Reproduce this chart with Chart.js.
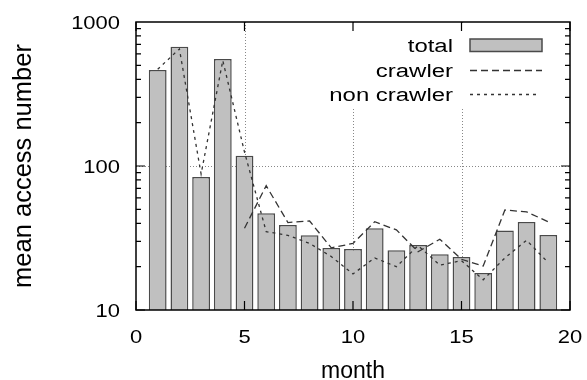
<!DOCTYPE html>
<html lang="en">
<head>
    <meta charset="UTF-8">
    <title>mean access number</title>
    <script src="https://cdn.jsdelivr.net/npm/chart.js"></script>
    <style>
        body { margin: 0; background: #fff; }
        #chart { display: block; }
    </style>
</head>
<body>
    <canvas id="chart" width="587" height="380"></canvas>
    <script>
        // data
        const months = [1, 2, 3, 4, 5, 6, 7, 8, 9, 10, 11, 12, 13, 14, 15, 16, 17, 18, 19];
        const total = [464, 674, 84, 553, 118, 47, 39, 33, 27, 26.5, 37, 26, 28.3, 24.4, 23.3, 18.1, 35.7, 40.8, 33.2];
        const crawlerMonths = [5, 6, 7, 8, 9, 10, 11, 12, 13, 14, 15, 16, 17, 18, 19];
        const crawler = [37, 73, 40.5, 41.5, 27, 29, 41, 36, 25.4, 31, 22.5, 20.2, 49.5, 48, 41];
        const nonCrawler = [470, 650, 88, 540, 125, 35, 33, 29, 23.5, 17.8, 23, 20, 28, 20.5, 22, 16.2, 23, 30.5, 21.3];
        const xTicks = [0, 5, 10, 15, 20];
        const yTicks = [10, 100, 1000];

        const FONT = '"Liberation Sans", Arial, sans-serif';
        const LINE = '#333';

        function stretchText(ctx, s, x, y, size, sx, align) {
            ctx.save();
            ctx.translate(x, y);
            ctx.scale(sx, 1);
            ctx.font = size + 'px ' + FONT;
            ctx.textAlign = align;
            ctx.textBaseline = 'alphabetic';
            ctx.fillStyle = '#000';
            ctx.fillText(s, 0, 0);
            ctx.restore();
        }

        const gnuplotLook = {
            id: 'gnuplotLook',
            beforeDatasetsDraw(chart) {
                const ctx = chart.ctx;
                const a = chart.chartArea;
                const xs = chart.scales.x, ys = chart.scales.y;
                ctx.save();
                ctx.strokeStyle = '#888';
                ctx.lineWidth = 1;
                ctx.setLineDash([1, 2]);
                ctx.beginPath();
                xTicks.slice(1, -1).forEach(v => {
                    const px = Math.round(xs.getPixelForValue(v)) + 0.5;
                    ctx.moveTo(px, a.top);
                    ctx.lineTo(px, a.bottom);
                });
                yTicks.slice(1, -1).forEach(v => {
                    const py = Math.round(ys.getPixelForValue(v)) + 0.5;
                    ctx.moveTo(a.left, py);
                    ctx.lineTo(a.right, py);
                });
                ctx.stroke();
                // legend box hides the grid behind it
                ctx.fillStyle = '#fff';
                ctx.fillRect(322, a.top + 1, a.right - 323, 86);
                ctx.restore();
            },
            afterDatasetsDraw(chart) {
                const ctx = chart.ctx;
                const a = chart.chartArea;
                const xs = chart.scales.x, ys = chart.scales.y;
                ctx.save();
                ctx.strokeStyle = '#000';
                ctx.lineWidth = 1.5;
                ctx.setLineDash([]);
                ctx.strokeRect(a.left, a.top, a.right - a.left, a.bottom - a.top);

                // log ticks, left and right, inward
                ctx.beginPath();
                for (let d = 10; d < 1000; d *= 10) {
                    for (let k = 1; k <= 9; k++) {
                        const v = d * k;
                        const py = ys.getPixelForValue(v);
                        const len = k === 1 ? 9 : 5;
                        ctx.moveTo(a.left, py); ctx.lineTo(a.left + len, py);
                        ctx.moveTo(a.right, py); ctx.lineTo(a.right - len, py);
                    }
                }
                xTicks.forEach(v => {
                    const px = xs.getPixelForValue(v);
                    ctx.moveTo(px, a.bottom); ctx.lineTo(px, a.bottom - 9);
                    ctx.moveTo(px, a.top); ctx.lineTo(px, a.top + 9);
                });
                ctx.lineWidth = 1.2;
                ctx.stroke();

                // tick labels
                yTicks.forEach(v => {
                    stretchText(ctx, String(v), a.left - 16, ys.getPixelForValue(v) + 6.5, 18, 1.22, 'right');
                });
                xTicks.forEach(v => {
                    stretchText(ctx, String(v), xs.getPixelForValue(v), a.bottom + 33, 18, 1.22, 'center');
                });

                // axis titles
                ctx.fillStyle = '#000';
                ctx.font = '23px ' + FONT;
                ctx.textAlign = 'center';
                ctx.textBaseline = 'alphabetic';
                ctx.fillText('month', (a.left + a.right) / 2, 378);
                ctx.save();
                ctx.translate(31, (a.top + a.bottom) / 2);
                ctx.rotate(-Math.PI / 2);
                ctx.font = '25.5px ' + FONT;
                ctx.fillText('mean access number', 0, 0);
                ctx.restore();

                // legend, gnuplot style: text right, sample to the right of it
                const ds = chart.data.datasets;
                const rows = [45, 70.5, 94.5];
                ds.forEach((d, i) => {
                    stretchText(ctx, d.label, 453, rows[i] + 6.5, 18, 1.33, 'right');
                    ctx.save();
                    if (d.type === 'line') {
                        ctx.strokeStyle = d.borderColor;
                        ctx.lineWidth = d.borderWidth;
                        ctx.setLineDash(d.borderDash);
                        ctx.beginPath();
                        ctx.moveTo(470, rows[i]);
                        ctx.lineTo(i === 1 ? 542 : 536, rows[i]);
                        ctx.stroke();
                    } else {
                        ctx.fillStyle = d.backgroundColor;
                        ctx.fillRect(470, rows[i] - 6, 72, 12.5);
                        ctx.strokeStyle = d.borderColor;
                        ctx.lineWidth = d.borderWidth;
                        ctx.strokeRect(470, rows[i] - 6, 72, 12.5);
                    }
                    ctx.restore();
                });
                ctx.restore();
            }
        };

        const ctx = document.getElementById('chart').getContext('2d');
        const chart = new Chart(ctx, {
            type: 'bar',
            data: {
                datasets: [
                    {
                        label: 'total',
                        data: months.map((m, i) => ({ x: m, y: total[i] })),
                        backgroundColor: '#c0c0c0',
                        borderColor: '#4a4a4a',
                        borderWidth: 1.5,
                        barPercentage: 1,
                        categoryPercentage: 0.82,
                        order: 2
                    },
                    {
                        type: 'line',
                        label: 'crawler',
                        data: crawlerMonths.map((m, i) => ({ x: m, y: crawler[i] })),
                        borderColor: LINE,
                        borderWidth: 1.3,
                        borderDash: [7, 4],
                        pointRadius: 0,
                        tension: 0,
                        fill: false,
                        order: 1
                    },
                    {
                        type: 'line',
                        label: 'non crawler',
                        data: months.map((m, i) => ({ x: m, y: nonCrawler[i] })),
                        borderColor: LINE,
                        borderWidth: 1.3,
                        borderDash: [3, 4],
                        pointRadius: 0,
                        tension: 0,
                        fill: false,
                        order: 0
                    }
                ]
            },
            options: {
                responsive: false,
                animation: false,
                layout: { padding: { left: 136, right: 17, top: 22, bottom: 70 } },
                plugins: { legend: { display: false }, tooltip: { enabled: false } },
                scales: {
                    x: { type: 'linear', min: 0, max: 20, offset: false, display: false },
                    y: { type: 'logarithmic', min: 10, max: 1000, display: false }
                }
            },
            plugins: [gnuplotLook]
        });
    </script>
</body>
</html>
